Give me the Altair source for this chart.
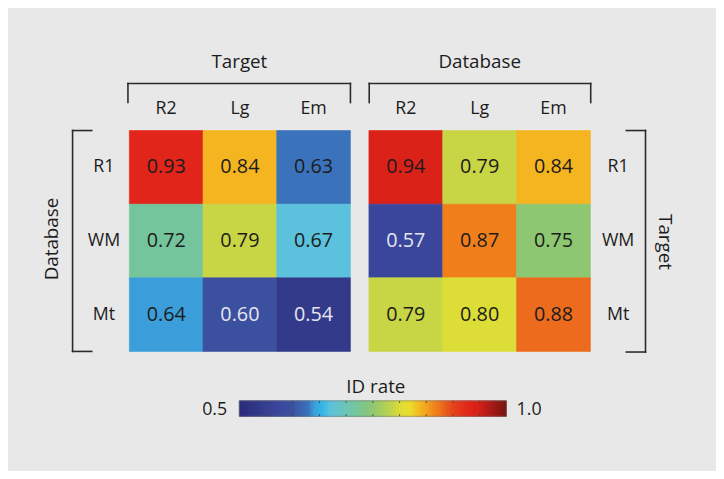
import altair as alt
import numpy as np
import pandas as pd

# ---------------- data ----------------
rows = ["R1", "WM", "Mt"]
cols = ["R2", "Lg", "Em"]
left_vals = [[0.93, 0.84, 0.63],
             [0.72, 0.79, 0.67],
             [0.64, 0.60, 0.54]]
right_vals = [[0.94, 0.79, 0.84],
              [0.57, 0.87, 0.75],
              [0.79, 0.80, 0.88]]
left_title = "Target"
left_side_title = "Database"
right_title = "Database"
right_side_title = "Target"
legend_title = "ID rate"
cb_min, cb_max = 0.5, 1.0
cb_ticks = [0.55, 0.60, 0.65, 0.70, 0.75, 0.80, 0.85, 0.90, 0.95]

# jet-like colour stops
stop_vals = [0.50, 0.54, 0.57, 0.60, 0.63, 0.64, 0.655, 0.67, 0.70, 0.72, 0.75,
             0.79, 0.80, 0.82, 0.84, 0.87, 0.88, 0.90, 0.93, 0.95, 1.00]
stop_cols = ["#2b2a7b", "#333a8a", "#3a469b", "#3b509f", "#3a73bb", "#3b9edb",
             "#32b4e6", "#5bc1dc", "#6cc4b6", "#75c59c", "#8ec772",
             "#c8d545", "#dcdd36", "#eadc2e", "#f4b520", "#ef7e1b", "#ec6b1c",
             "#e6441b", "#e1251a", "#d41f18", "#761611"]

FONT = "Open Sans"
INK = "#1c1c1c"
BG = "#e8e8e8"

color_scale = alt.Scale(domain=stop_vals, range=stop_cols, interpolate="rgb")

ROW_RANGE = [121.3, 344.7]
L_RANGE = [122.7, 346.3]
R_RANGE = [365, 589]
CB_RANGE = [234, 504]
CB_Y = (394.7, 410.3)


def long(vals):
    return pd.DataFrame([{"row": r, "col": c, "v": vals[i][j]}
                         for i, r in enumerate(rows) for j, c in enumerate(cols)])


def heat(vals, xrange, row_x):
    df = long(vals)
    xs = alt.Scale(domain=cols, range=xrange, paddingInner=0, paddingOuter=0)
    ys = alt.Scale(domain=rows, range=ROW_RANGE, paddingInner=0, paddingOuter=0)
    X = alt.X("col:N", scale=xs, axis=None)
    Y = alt.Y("row:N", scale=ys, axis=None)
    base = alt.Chart(df)
    rect = base.mark_rect(strokeWidth=0.6).encode(
        x=X, y=Y,
        color=alt.Color("v:Q", scale=color_scale, legend=None),
        stroke=alt.Stroke("v:Q", scale=color_scale, legend=None))
    txt = base.mark_text(font=FONT, fontSize=20).encode(
        x=X, y=Y, text=alt.Text("v:Q", format=".2f"),
        color=alt.condition("datum.v < 0.62", alt.value("#e6e6f0"), alt.value(INK)))
    collab = alt.Chart(pd.DataFrame({"col": cols})).mark_text(
        font=FONT, fontSize=18, color=INK).encode(
        x=X, y=alt.value(100), text="col:N")
    rowlab = alt.Chart(pd.DataFrame({"row": rows})).mark_text(
        font=FONT, fontSize=18, color=INK).encode(
        y=Y, x=alt.value(row_x), text="row:N")
    return [rect, txt, collab, rowlab]


def seg(x1, x2, y1, y2):
    return alt.Chart(alt.Data(values=[{"k": 0}])).mark_rule(
        color="#2a2a2a", strokeWidth=1.6, strokeCap="square").encode(
        x=alt.value(x1), x2=alt.value(x2), y=alt.value(y1), y2=alt.value(y2))


def label(t, x, y, size=19, angle=0):
    kw = dict(font=FONT, fontSize=size, color=INK)
    if angle:
        kw["angle"] = angle
    return alt.Chart(alt.Data(values=[{"t": t}])).mark_text(**kw).encode(
        x=alt.value(x), y=alt.value(y), text="t:N")


layers = []
layers += heat(left_vals, L_RANGE, 97)
layers += heat(right_vals, R_RANGE, 617)

# brackets
layers += [
    seg(121.3, 346.3, 73.7, 73.7), seg(121.3, 121.3, 73.7, 93), seg(346.3, 346.3, 73.7, 93),
    seg(365.3, 589.3, 73.7, 73.7), seg(365.3, 365.3, 73.7, 93), seg(589.3, 589.3, 73.7, 93),
    seg(65.3, 65.3, 121.3, 344.7), seg(65.3, 84.7, 121.3, 121.3), seg(65.3, 84.7, 344.7, 344.7),
    seg(644.7, 644.7, 121.3, 345.3), seg(625.3, 644.7, 121.3, 121.3), seg(625.3, 644.7, 345.3, 345.3),
]

# titles
layers += [
    label(left_title, 234, 52),
    label(right_title, 477, 52),
    label(left_side_title, 45, 231, angle=270),
    label(right_side_title, 664, 234, angle=90),
]

# colour bar
edges = np.linspace(cb_min, cb_max, 91)
cb_df = pd.DataFrame({"cb": edges[:-1], "cb2": edges[1:], "v": (edges[:-1] + edges[1:]) / 2})
cbx = alt.Scale(domain=[cb_min, cb_max], range=CB_RANGE, nice=False, zero=False)
layers.append(alt.Chart(cb_df).mark_rect(strokeWidth=1, opacity=1).encode(
    x=alt.X("cb:Q", scale=cbx, axis=None), x2="cb2:Q",
    y=alt.value(CB_Y[0]), y2=alt.value(CB_Y[1]),
    color=alt.Color("v:Q", scale=color_scale, legend=None),
    stroke=alt.Stroke("v:Q", scale=color_scale, legend=None)))
tick_df = pd.DataFrame({"t": cb_ticks})
layers.append(alt.Chart(tick_df).mark_rule(color="#3a3a3a", strokeWidth=0.8).encode(
    x=alt.X("t:Q", scale=cbx, axis=None), y=alt.value(CB_Y[0]), y2=alt.value(CB_Y[0] + 2.2)))
layers.append(alt.Chart(tick_df).mark_rule(color="#3a3a3a", strokeWidth=0.8).encode(
    x=alt.X("t:Q", scale=cbx, axis=None), y=alt.value(CB_Y[1] - 2.2), y2=alt.value(CB_Y[1])))
layers.append(alt.Chart(alt.Data(values=[{"k": 0}])).mark_rect(
    fill=None, stroke="#777777", strokeWidth=0.6).encode(
    x=alt.value(CB_RANGE[0]), x2=alt.value(CB_RANGE[1]),
    y=alt.value(CB_Y[0]), y2=alt.value(CB_Y[1])))
layers += [
    label(legend_title, 372, 381),
    label(f"{cb_min:.1f}", 209, 403.5, size=18),
    label(f"{cb_max:.1f}", 527, 403.5, size=18),
]

chart = alt.layer(*layers).resolve_scale(x="independent", y="independent").properties(
    width=716, height=463, padding=0,
    autosize=alt.AutoSizeParams(type="none"),
    background=BG,
).configure_view(stroke=None)

chart.save("out.html", embed_options={"renderer": "svg", "actions": False})
